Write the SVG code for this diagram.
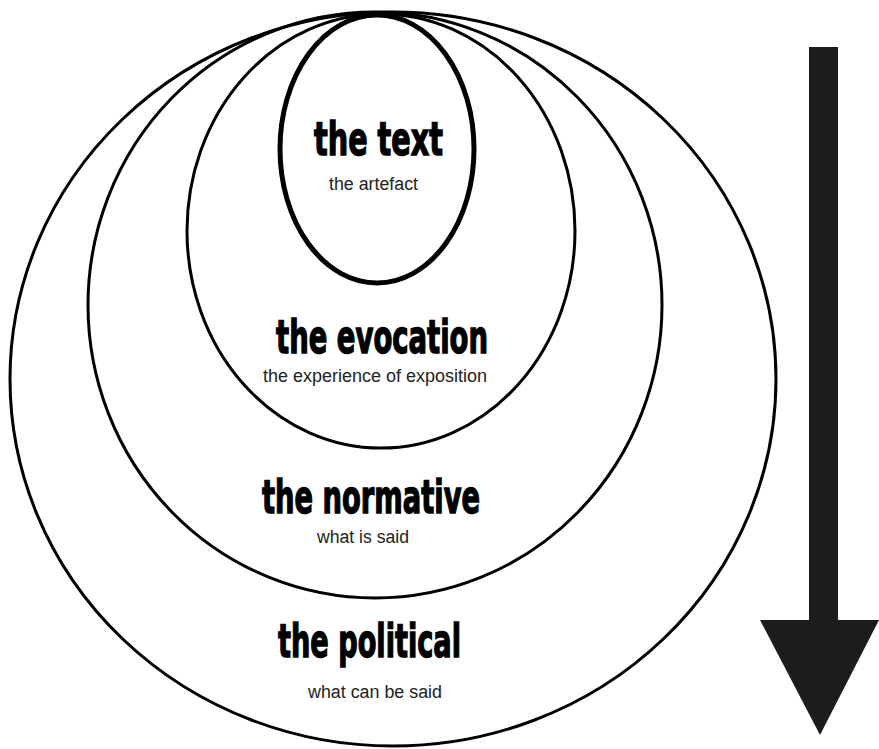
<svg xmlns="http://www.w3.org/2000/svg" width="879" height="749" viewBox="0 0 879 749">
<style>
.ring{fill:none;stroke:#000;stroke-width:3}
.core{fill:none;stroke:#000;stroke-width:5}
.big{font-family:"Liberation Sans Narrow","DejaVu Sans Condensed","Liberation Sans",sans-serif;font-weight:bold;font-size:47px;fill:#000;stroke:#000;stroke-width:1.4}
.small{font-family:"Liberation Sans",Arial,sans-serif;font-size:18px;fill:#222}
</style>
<rect width="879" height="749" fill="#fff"/>
<g id="political">
<ellipse class="ring" cx="393" cy="379" rx="383" ry="367"/>
<text class="big" x="278" y="657" textLength="183" lengthAdjust="spacingAndGlyphs">the political</text>
<text class="small" x="308" y="698" textLength="134" lengthAdjust="spacingAndGlyphs">what can be said</text>
</g>
<g id="normative">
<ellipse class="ring" cx="375" cy="305" rx="287" ry="293"/>
<text class="big" x="262" y="513" textLength="218" lengthAdjust="spacingAndGlyphs">the normative</text>
<text class="small" x="317" y="543" textLength="92" lengthAdjust="spacingAndGlyphs">what is said</text>
</g>
<g id="evocation">
<ellipse class="ring" cx="381" cy="231" rx="194" ry="217"/>
<text class="big" x="276" y="353" textLength="212" lengthAdjust="spacingAndGlyphs">the evocation</text>
<text class="small" x="263" y="382" textLength="224" lengthAdjust="spacingAndGlyphs">the experience of exposition</text>
</g>
<g id="text">
<ellipse class="core" cx="377" cy="149" rx="97" ry="134"/>
<text class="big" x="314" y="155" textLength="129" lengthAdjust="spacingAndGlyphs">the text</text>
<text class="small" x="329" y="190" textLength="89" lengthAdjust="spacingAndGlyphs">the artefact</text>
</g>
<g id="connectors">
<polygon id="arrow" fill="#1c1c1c" points="809,47 838,47 838,620 879,620 820,735 760,620 809,620"/>
</g>
</svg>
